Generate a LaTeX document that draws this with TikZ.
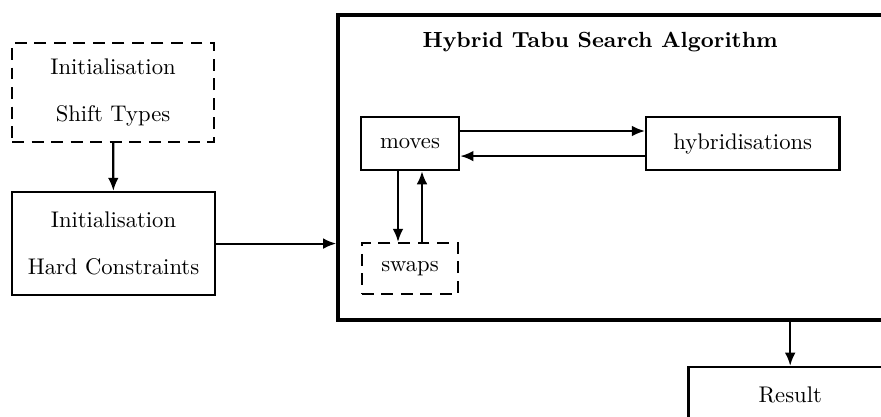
\documentclass[tikz,border=0pt]{standalone}
\usepackage{tikz}
\usetikzlibrary{arrows.meta,positioning,calc}

\begin{document}
\begin{tikzpicture}[
	font=\fontsize{9.5}{11.5}\selectfont,
	block/.style={draw, line width=1pt, minimum width=3cm, minimum height=1.52cm, align=center, inner sep=2pt},
	dashblock/.style={block, dash pattern=on 5pt off 3.2pt},
	smallblock/.style={draw, line width=1pt, minimum width=1.45cm, minimum height=0.78cm, inner sep=2pt},
	arr/.style={line width=0.9pt, -{Latex[length=5.5pt,width=4.5pt]}}
]
	\clip (0,0) rectangle (13.00,-6.14);

	\node[dashblock, minimum width=2.98cm, minimum height=1.46cm] (shift) at (1.668,-1.365) {Initialisation\\[8pt]Shift Types};
	\node[block] (hard) at (1.675,-3.594) {Initialisation\\[8pt]Hard Constraints};

	\node[draw, line width=1.6pt, minimum width=8.3cm, minimum height=4.5cm] (hts) at (9.14,-2.472) {};
	\node[font=\fontsize{9.2}{11}\selectfont\bfseries] (title) at (8.856,-0.62) {Hybrid Tabu Search Algorithm};
	\node[smallblock] (moves) at (6.05,-2.118) {moves};
	\node[smallblock, minimum width=2.85cm] (hyb) at (10.96,-2.118) {hybridisations};
	\node[smallblock, dash pattern=on 5pt off 3.2pt, minimum width=1.42cm, minimum height=0.75cm] (swaps) at (6.05,-3.963) {swaps};

	\node[block, minimum height=0.83cm] (result) at (11.66,-5.83) {Result};

	\draw[arr] (shift) -- (hard);
	\draw[arr] (hard.east) -- (hard.east -| hts.west);
	\draw[arr] ([yshift=0.185cm]moves.east) -- ([yshift=0.185cm]hyb.west);
	\draw[arr] ([yshift=-0.185cm]hyb.west) -- ([yshift=-0.185cm]moves.east);
	\draw[arr] ([xshift=-0.177cm]moves.south) -- ([xshift=-0.177cm]swaps.north);
	\draw[arr] ([xshift=0.177cm]swaps.north) -- ([xshift=0.177cm]moves.south);
	\draw[arr] (result.north |- hts.south) -- (result.north);
\end{tikzpicture}
\end{document}
